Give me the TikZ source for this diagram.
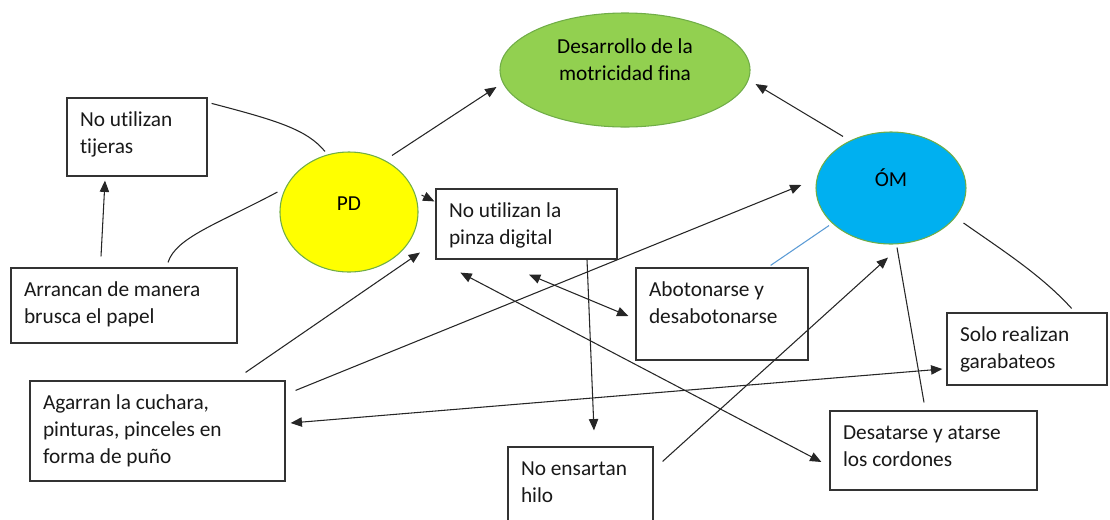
\documentclass[tikz,border=0pt]{standalone}
\usepackage{fontspec}
\setmainfont{Carlito}[Ligatures=NoCommon]
\usetikzlibrary{shapes.geometric,arrows.meta,calc}
\definecolor{gfill}{RGB}{146,208,80}
\definecolor{yfill}{RGB}{255,255,0}
\definecolor{bfill}{RGB}{0,176,240}
\definecolor{eline}{RGB}{112,173,71}
\definecolor{lblue}{RGB}{91,155,213}
\begin{document}
\begin{tikzpicture}[x=0.75pt,y=-0.75pt,
  font=\fontsize{16pt}{20.6pt}\selectfont,
  box/.style={draw=black!80, line width=0.9pt, fill=white, inner xsep=9.75pt, inner ysep=6.6pt, text=black!90},
  ell/.style={ellipse, draw=eline, line width=0.8pt, inner sep=0pt},
  con/.style={draw=black!85, line width=0.8pt},
  arr/.style={con, -{Triangle[length=8.5pt,width=7pt]}},
  darr/.style={con, {Triangle[length=8.5pt,width=7pt]}-{Triangle[length=8.5pt,width=7pt]}}]
\useasboundingbox (0,0) rectangle (1110,519);

% ellipses
\node[ell, fill=gfill, minimum width=187.5pt, minimum height=85.5pt, align=center] (green) at (625,70) {Desarrollo de la\\motricidad fina\rule[-16pt]{0pt}{16pt}};
\node[ell, fill=yfill, minimum width=103.5pt, minimum height=90pt, text height=10pt, text depth=12pt] (pd) at (349,212) {PD};
\node[ell, fill=bfill, minimum width=112.5pt, minimum height=84pt, text height=10pt, text depth=12pt] (om) at (891,188) {ÓM};

% boxes
\node[box] (tij) at (137,137) {\parbox[c][45.3pt][t]{85.5pt}{\raggedright\strut No utilizan\\tijeras}};
\node[box] (arr) at (124,305.5) {\parbox[c][43.05pt][t]{150pt}{\raggedright\strut Arrancan de manera\\brusca el papel}};
\node[box] (aga) at (157.5,431) {\parbox[c][61.8pt][t]{171.75pt}{\raggedright\strut Agarran la cuchara,\\pinturas, pinceles en\\forma de puño}};
\node[box] (pin) at (526.5,224) {\parbox[c][39.3pt][t]{116.25pt}{\raggedright\strut No utilizan la\\pinza digital}};
\node[box] (abo) at (722,314) {\parbox[c][55.8pt][t]{109.5pt}{\raggedright\strut Abotonarse y\\desabotonarse}};
\node[box] (solo) at (1027,349) {\parbox[c][40.8pt][t]{100.5pt}{\raggedright\strut Solo realizan\\garabateos}};
\node[box] (des) at (933.5,450.5) {\parbox[c][46.05pt][t]{135.75pt}{\raggedright\strut Desatarse y atarse\\los cordones}};
\node[box] (ens) at (580.5,487) {\parbox[c][46.8pt][t]{89.25pt}{\raggedright\strut No ensartan\\hilo}};

% connectors
\draw[arr] ($(pd.north)+(43,4)$) -- ($(green.west)+(-3,17)$);
\draw[arr] ($(om.north)+(-48,5)$) -- ($(green.east)+(5,14)$);
\draw[con] ($(tij.north east)+(4,6)$) .. controls +(65,17) and +(-18,-22) .. ($(pd.north)+(-24,0)$);
\draw[con] ($(arr.north)+(44,-5)$) .. controls +(8,-25) and +(-60,32) .. ($(pd.west)+(-2,-20)$);
\draw[arr] ($(arr.north)+(-23,-11)$) -- ($(tij.south)+(-32,4)$);
\draw[arr] ($(pd.east)+(3,-17)$) -- ($(pin.north west)+(-1,13)$);
\draw[arr] ($(aga.north east)+(-40,-8)$) -- ($(pd.south)+(71,-20)$);
\draw[arr] ($(aga.north east)+(10,10)$) -- ($(om.west)+(-14,-3)$);
\draw[darr] ($(aga.east)+(5,-8)$) -- ($(solo.west)+(-4,20)$);
\draw[darr] ($(pin.south)+(2.5,15)$) -- ($(abo.west)+(-7,2)$);
\draw[darr] ($(pin.south west)+(25,13)$) -- ($(des.west)+(-8,11.5)$);
\draw[arr] ($(pin.south)+(60.5,0)$) -- ($(ens.north)+(13.5,-16)$);
\draw[arr] ($(ens.north east)+(9,15)$) -- ($(om.south)+(-3,13)$);
\draw[con] ($(des.north)+(-9.5,-8)$) -- ($(om.south)+(6,3)$);
\draw[draw=lblue, line width=0.8pt] ($(abo.north east)+(-38,-2)$) -- ($(om.south)+(-62,-19)$);
\draw[con] ($(om.east)+(-3,35)$) .. controls +(40,28) and +(-30,-33) .. ($(solo.north east)+(-36,-4)$);
\end{tikzpicture}
\end{document}
